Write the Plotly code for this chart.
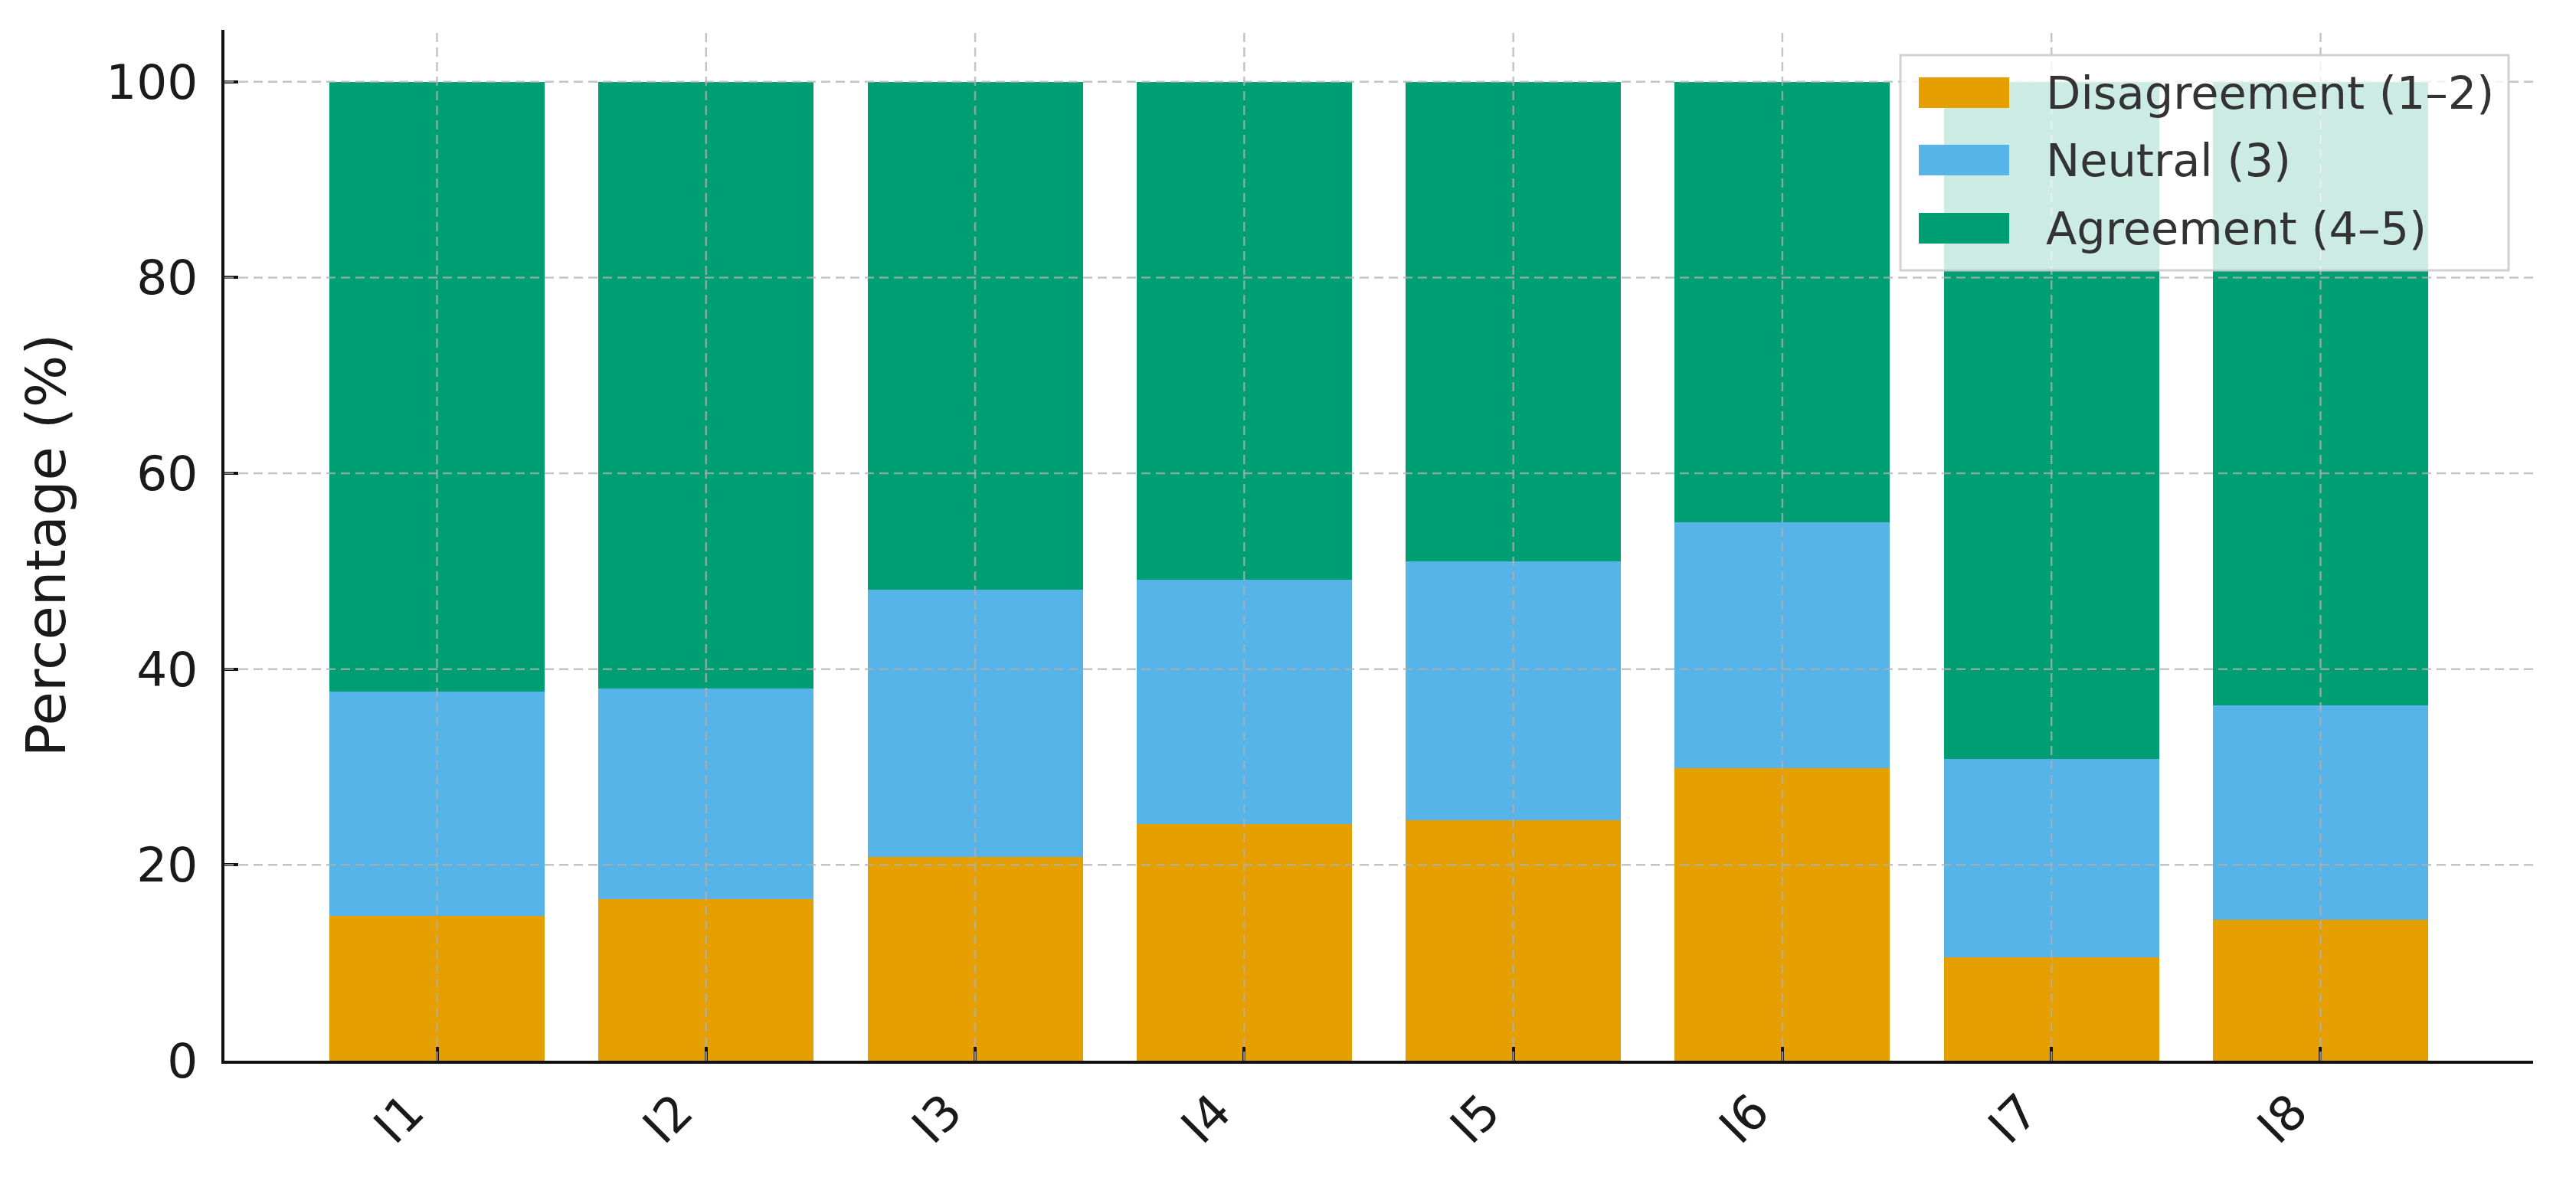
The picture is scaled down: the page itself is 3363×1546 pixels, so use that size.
import plotly.graph_objects as go

# ---- data ----
items = ["I1", "I2", "I3", "I4", "I5", "I6", "I7", "I8"]
disagreement = [14.8, 16.5, 20.8, 24.2, 24.6, 29.9, 10.6, 14.4]
neutral = [22.9, 21.5, 27.3, 24.9, 26.4, 25.1, 20.2, 21.9]
agreement = [62.3, 62.0, 51.9, 50.9, 49.0, 45.0, 69.2, 63.7]
series_names = ["Disagreement (1–2)", "Neutral (3)", "Agreement (4–5)"]
series_values = [disagreement, neutral, agreement]
colors = ["#E69F00", "#56B4E9", "#009E73"]
y_ticks = [0, 20, 40, 60, 80, 100]

FONT = "DejaVu Sans"
W, H = 3363, 1546
OFF = 8  # default page body margin
ML, MR, MT, MB = 293 - OFF, 56 + OFF, 39 - OFF, 161 + OFF

fig = go.Figure()
for name, vals, col in zip(series_names, series_values, colors):
    fig.add_trace(go.Bar(x=items, y=vals, name=name, marker=dict(color=col, line=dict(width=0)),
                         width=0.8, showlegend=False))

fig.update_layout(
    width=W, height=H,
    barmode="stack",
    margin=dict(l=ML, r=MR, t=MT, b=MB, pad=0),
    paper_bgcolor="white", plot_bgcolor="white",
    font=dict(family=FONT, size=63, color="#1a1a1a"),
)

fig.update_xaxes(
    range=[-0.79, 7.79], showgrid=False, zeroline=False,
    showline=True, linecolor="#111111", linewidth=4,
    ticks="inside", ticklen=18, tickwidth=4, tickcolor="#111111",
    tickangle=-45, tickfont=dict(size=63, family=FONT, color="#1a1a1a"),
    ticklabelstandoff=0, ticklabelshift=-36,
)
fig.update_yaxes(
    range=[0, 105.3], tickvals=y_ticks, showgrid=False, zeroline=False,
    showline=True, linecolor="#111111", linewidth=4,
    ticks="inside", ticklen=18, tickwidth=4, tickcolor="#111111",
    tickfont=dict(size=63, family=FONT, color="#1a1a1a"),
    ticklabelstandoff=18,
    title=dict(text="Percentage (%)", font=dict(size=72, family=FONT, color="#1a1a1a"), standoff=30),
)

# dashed grid drawn above the bars (as in the reference)
grid_style = dict(color="rgba(176,176,176,0.75)", width=2.5, dash="12px,7px")
for yv in y_ticks[1:]:
    fig.add_shape(type="line", xref="paper", yref="y", x0=0, x1=1, y0=yv, y1=yv,
                  line=grid_style, layer="above")
for it in items:
    fig.add_shape(type="line", xref="x", yref="paper", x0=it, x1=it, y0=0, y1=1,
                  line=grid_style, layer="above")

# legend box (matplotlib style); positions given in page pixels
pw = W - ML - MR
ph = H - MT - MB
def px_x(p):
    return (p - OFF - ML) / pw
def px_y(p):
    return (H - MB - (p - OFF)) / ph

fig.add_shape(type="rect", xref="paper", yref="paper",
              x0=px_x(2481), x1=px_x(3275), y0=px_y(353), y1=px_y(72),
              fillcolor="rgba(255,255,255,0.8)", line=dict(color="rgba(204,204,204,0.9)", width=3),
              layer="above")
row_centers = [121, 209, 298]
for name, col, rc in zip(series_names, colors, row_centers):
    fig.add_shape(type="rect", xref="paper", yref="paper",
                  x0=px_x(2505), x1=px_x(2623), y0=px_y(rc + 20), y1=px_y(rc - 20),
                  fillcolor=col, line=dict(width=0), layer="above")
    fig.add_annotation(xref="paper", yref="paper", x=px_x(2669), y=px_y(rc),
                       text=name, showarrow=False, xanchor="left", yanchor="middle",
                       font=dict(size=59, family=FONT, color="#333333"))

fig.write_html("out.html")
